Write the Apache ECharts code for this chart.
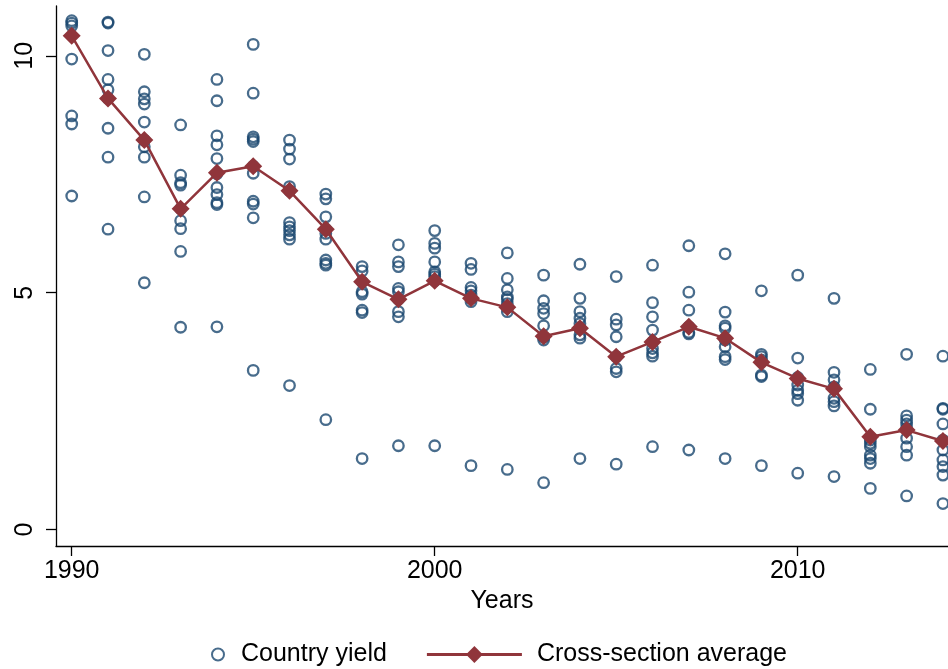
<!DOCTYPE html>
<html>
<head>
<meta charset="utf-8">
<script src="https://cdn.jsdelivr.net/npm/echarts@6/dist/echarts.min.js"></script>
<style>
html,body{margin:0;padding:0;background:#fff;}
#chart{width:948px;height:669px;}
</style>
</head>
<body>
<div id="chart"></div>
<script>
var years = [1990,1991,1992,1993,1994,1995,1996,1997,1998,1999,2000,2001,2002,2003,2004,2005,2006,2007,2008,2009,2010,2011,2012,2013,2014];

var countryYields = [
  [10.74, 10.69, 10.63, 9.93, 8.73, 8.56, 7.04],
  [10.71, 10.69, 10.11, 9.50, 9.28, 9.10, 8.47, 7.86, 6.34],
  [10.03, 9.24, 9.09, 8.98, 8.60, 8.22, 8.08, 7.86, 7.02, 5.21],
  [8.54, 7.48, 7.32, 7.27, 6.77, 6.52, 6.35, 5.87, 4.27],
  [9.50, 9.05, 8.31, 8.12, 7.83, 7.51, 7.22, 7.07, 6.90, 6.86, 4.28],
  [10.24, 9.21, 8.29, 8.24, 8.19, 7.67, 7.52, 6.93, 6.87, 6.58, 3.36],
  [8.22, 8.03, 7.82, 7.24, 7.15, 6.48, 6.39, 6.31, 6.22, 6.13, 3.04],
  [7.08, 6.98, 6.60, 6.34, 6.25, 6.13, 5.69, 5.62, 5.58, 2.32],
  [5.55, 5.46, 5.23, 5.02, 4.97, 4.63, 4.58, 1.50],
  [6.01, 5.65, 5.55, 5.09, 5.02, 4.86, 4.60, 4.49, 1.77],
  [6.31, 6.04, 5.94, 5.65, 5.44, 5.39, 5.34, 5.25, 1.77],
  [5.62, 5.49, 5.11, 5.04, 4.95, 4.88, 4.81, 1.35],
  [5.84, 5.30, 5.06, 4.91, 4.86, 4.77, 4.69, 4.60, 1.27],
  [5.37, 4.83, 4.67, 4.56, 4.30, 4.06, 4.00, 0.99],
  [5.60, 4.88, 4.60, 4.46, 4.35, 4.25, 4.11, 4.04, 1.50],
  [5.34, 4.44, 4.32, 4.07, 3.65, 3.40, 3.33, 1.38],
  [5.58, 4.79, 4.49, 4.21, 3.96, 3.82, 3.73, 3.66, 1.75],
  [5.99, 5.01, 4.63, 4.28, 4.16, 4.13, 1.68],
  [5.82, 4.59, 4.30, 4.25, 4.00, 3.86, 3.65, 3.59, 1.50],
  [5.04, 3.70, 3.65, 3.58, 3.26, 3.23, 1.35],
  [5.37, 3.62, 3.21, 3.05, 2.94, 2.87, 2.73, 1.19],
  [4.88, 3.32, 3.16, 3.01, 2.77, 2.70, 2.61, 1.12],
  [3.38, 2.54, 1.89, 1.82, 1.75, 1.57, 1.50, 1.40, 0.87],
  [3.70, 2.40, 2.31, 2.23, 2.14, 1.93, 1.75, 1.57, 0.71],
  [3.66, 2.56, 2.54, 2.23, 1.89, 1.68, 1.47, 1.33, 1.15, 0.55]
];

var crossSectionAverage = [10.42, 9.10, 8.22, 6.77, 7.53, 7.67, 7.15, 6.34, 5.23, 4.86, 5.25, 4.88, 4.69, 4.08, 4.25, 3.65, 3.96, 4.28, 4.04, 3.53, 3.19, 2.97, 1.96, 2.10, 1.87];

var xTicks = [1990, 2000, 2010];
var yTicks = [0, 5, 10];

var scatterData = [];
years.forEach(function (y, i) {
  countryYields[i].forEach(function (v) { scatterData.push([y, v]); });
});
var lineData = years.map(function (y, i) { return [y, crossSectionAverage[i]]; });

var FONT = 'Liberation Sans';
var NAVY = '#1a476f';
var MAROON = '#90353b';

var chart = echarts.init(document.getElementById('chart'), null, {renderer: 'canvas'});
chart.setOption({
  animation: false,
  backgroundColor: '#fff',
  grid: {left: 56, right: 0, top: 6, bottom: 123, containLabel: false},
  xAxis: {
    type: 'value',
    min: 1989.567, max: 2014.14,
    name: 'Years', nameLocation: 'middle', nameGap: 40,
    nameTextStyle: {fontFamily: FONT, fontSize: 25, color: '#000'},
    axisLine: {show: true, onZero: false, lineStyle: {color: '#000', width: 1.3}},
    axisTick: {show: true, length: 10, lineStyle: {color: '#000', width: 1.3}, customValues: xTicks},
    axisLabel: {fontFamily: FONT, fontSize: 25, color: '#000', margin: 13, customValues: xTicks,
      formatter: function (v) { return String(v); }},
    splitLine: {show: false}
  },
  yAxis: {
    type: 'value',
    min: -0.346, max: 11.05,
    axisLine: {show: true, onZero: false, lineStyle: {color: '#000', width: 1.3}},
    axisTick: {show: true, length: 10, lineStyle: {color: '#000', width: 1.3}, customValues: yTicks},
    axisLabel: {fontFamily: FONT, fontSize: 25, color: '#000', margin: 18, rotate: 90, customValues: yTicks,
      formatter: function (v) { return String(v); }},
    splitLine: {show: false}
  },
  legend: [
    {
      data: ['Country yield'],
      left: 206, top: 637,
      itemWidth: 36, itemHeight: 12,
      textStyle: {fontFamily: FONT, fontSize: 25, color: '#000'}
    },
    {
      data: ['Cross-section average'],
      left: 420.5, top: 637,
      itemWidth: 95, itemHeight: 21,
      lineStyle: {width: 2.8},
      textStyle: {fontFamily: FONT, fontSize: 25, color: '#000', padding: [0, 0, 0, 10]}
    }
  ],
  series: [
    {
      name: 'Country yield',
      type: 'scatter',
      data: scatterData,
      symbol: 'circle',
      symbolSize: 10.5,
      symbolKeepAspect: true,
      itemStyle: {color: 'rgba(255,255,255,0)', borderColor: NAVY, borderWidth: 2.3},
      z: 2
    },
    {
      name: 'Cross-section average',
      type: 'line',
      data: lineData,
      symbol: 'diamond',
      symbolSize: 18,
      showAllSymbol: true,
      lineStyle: {color: MAROON, width: 2.5},
      itemStyle: {color: MAROON},
      z: 3
    }
  ]
});
</script>
</body>
</html>
